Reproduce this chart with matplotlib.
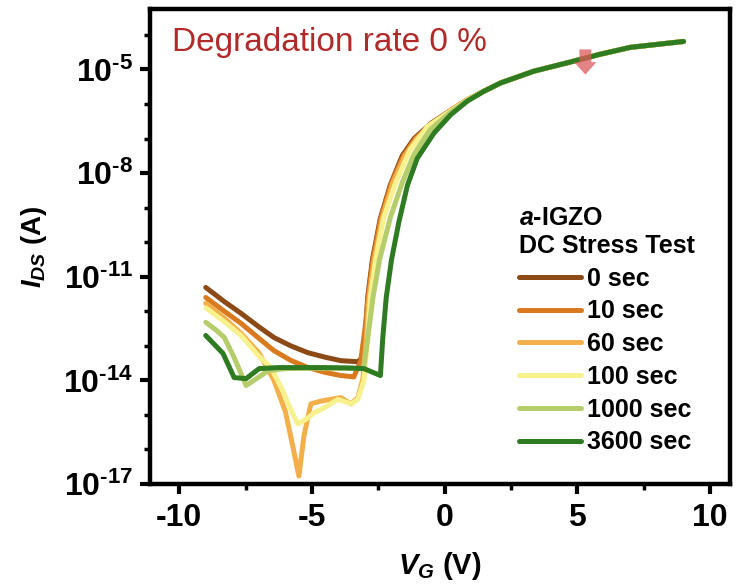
import numpy as np
import matplotlib
matplotlib.use("Agg")
import matplotlib.pyplot as plt
from matplotlib.ticker import FixedLocator, FuncFormatter

plt.rcParams['font.family'] = ['Liberation Sans', 'DejaVu Sans']
plt.rcParams['font.weight'] = 'bold'
plt.rcParams['axes.unicode_minus'] = False
plt.rcParams['mathtext.fontset'] = 'custom'
plt.rcParams['mathtext.rm'] = 'Liberation Sans:bold'
plt.rcParams['mathtext.bf'] = 'Liberation Sans:bold'
plt.rcParams['mathtext.it'] = 'Liberation Sans:italic:bold'
plt.rcParams['mathtext.bfit'] = 'Liberation Sans:italic:bold'
plt.rcParams['mathtext.sf'] = 'Liberation Sans:bold'

# ---- data: gate voltage (V) and log10 of drain current (A) ----
labels = ["0 sec", "10 sec", "60 sec", "100 sec", "1000 sec", "3600 sec"]
colors = ["#8B4A16", "#D97A1E", "#F3B04A", "#F7F28E", "#B6CD6C", "#2E7B21"]

vg_0s = [-9.0, -8.3, -7.67, -7.0, -6.43, -5.8, -5.15, -4.5, -3.91, -3.27, -3.04, -2.97,
         -2.9, -2.72, -2.42, -2.05, -1.6, -1.15, -0.5, 0.2, 0.85,
         1.48, 2.11, 3.36, 4.61, 5.86, 7.0, 9.0]
logi_0s = [-11.31, -11.72, -12.06, -12.45, -12.76, -13.0, -13.2, -13.33, -13.43, -13.46, -13.29, -12.5,
           -11.6, -10.5, -9.3, -8.35, -7.5, -7.0, -6.55, -6.2, -5.88,
           -5.63, -5.39, -5.05, -4.81, -4.56, -4.36, -4.19]

vg_10s = [-9.0, -8.3, -7.67, -7.0, -6.43, -5.8, -5.15, -4.5, -3.91, -3.42, -3.16, -3.0,
          -2.88, -2.7, -2.4, -2.0, -1.55, -1.1, -0.45, 0.2, 0.85,
          1.48, 2.11, 3.36, 4.61, 5.86, 7.0, 9.0]
logi_10s = [-11.6, -12.0, -12.35, -12.78, -13.14, -13.42, -13.63, -13.77, -13.86, -13.9, -13.43, -12.5,
            -11.6, -10.5, -9.3, -8.28, -7.5, -7.0, -6.55, -6.2, -5.88,
            -5.63, -5.39, -5.05, -4.81, -4.56, -4.36, -4.19]

vg_60s = [-9.0, -8.3, -7.67, -7.0, -6.43, -6.0, -5.75, -5.49, -5.3, -5.04, -4.66, -4.29, -3.91,
          -3.53, -3.27, -3.08, -2.95, -2.85, -2.65, -2.35, -1.95, -1.5, -1.05, -0.4, 0.2, 0.85,
          1.48, 2.11, 3.36, 4.61, 5.86, 7.0, 9.0]
logi_60s = [-11.77, -12.2, -12.64, -13.2, -14.0, -14.9, -15.8, -16.77, -15.6, -14.68, -14.6, -14.55, -14.5,
            -14.68, -14.5, -13.95, -12.8, -11.6, -10.5, -9.3, -8.28, -7.5, -7.0, -6.55, -6.2, -5.88,
            -5.63, -5.39, -5.05, -4.81, -4.56, -4.36, -4.19]

vg_100s = [-9.0, -8.3, -7.67, -7.0, -6.54, -6.1, -5.8, -5.53, -5.15, -4.92, -4.55, -4.02,
           -3.53, -3.27, -3.04, -2.9, -2.8, -2.6, -2.3, -1.85, -1.3, -0.65, 0.2, 0.85,
           1.48, 2.11, 3.36, 4.61, 5.86, 7.0, 9.0]
logi_100s = [-11.9, -12.3, -12.7, -13.3, -13.63, -14.3, -14.85, -15.26, -15.09, -14.94, -14.8, -14.55,
             -14.68, -14.55, -14.0, -12.8, -11.6, -10.5, -9.3, -8.28, -7.32, -6.65, -6.22, -5.89,
             -5.63, -5.39, -5.05, -4.81, -4.56, -4.36, -4.19]

vg_1000s = [-9.0, -8.6, -8.3, -7.93, -7.48, -7.03, -6.65, -6.0, -5.0, -4.0, -3.05, -2.9,
            -2.7, -2.45, -2.05, -1.6, -1.15, -0.55, 0.2, 0.85,
            1.48, 2.11, 3.36, 4.61, 5.86, 7.0, 9.0]
logi_1000s = [-12.32, -12.55, -12.76, -13.34, -14.15, -13.92, -13.72, -13.66, -13.65, -13.65, -13.66, -12.8,
              -11.6, -10.5, -9.3, -8.28, -7.45, -6.75, -6.25, -5.9,
              -5.63, -5.39, -5.05, -4.81, -4.56, -4.36, -4.19]

vg_3600s = [-9.0, -8.35, -7.93, -7.48, -6.99, -6.28, -5.5, -4.55, -3.6, -3.04, -2.42,
            -2.33, -2.2, -2.0, -1.72, -1.4, -1.03, -0.4, 0.23, 0.85,
            1.48, 2.11, 3.36, 4.61, 5.86, 7.0, 9.0]
logi_3600s = [-12.70, -13.22, -13.92, -13.95, -13.66, -13.63, -13.63, -13.63, -13.64, -13.66, -13.86,
              -12.76, -11.6, -10.5, -9.4, -8.35, -7.57, -6.84, -6.31, -5.92,
              -5.63, -5.39, -5.05, -4.81, -4.56, -4.36, -4.19]

vg_series = [vg_0s, vg_10s, vg_60s, vg_100s, vg_1000s, vg_3600s]
logi_series = [logi_0s, logi_10s, logi_60s, logi_100s, logi_1000s, logi_3600s]

y_major_exp = [-17, -14, -11, -8, -5]
y_minor_exp = list(range(-17, -3))
x_major = [-10, -5, 0, 5, 10]
x_minor = [-7.5, -2.5, 2.5, 7.5]

arrow_v = 5.3
arrow_from_log = -4.42
arrow_to_log = -5.15

# ---- figure ----
fig = plt.figure(figsize=(7.36, 5.86), dpi=100)
ax = fig.add_axes([150 / 736, 1 - 484 / 586, 580 / 736, 475 / 586])

for vg, li, c, lab in zip(vg_series, logi_series, colors, labels):
    ax.plot(vg, 10.0 ** np.array(li), color=c, lw=3.6, label=lab,
            solid_joinstyle='round', solid_capstyle='round')

ax.set_yscale('log')
ax.set_xlim(-11.1, 10.75)
ax.set_ylim(1e-17, 10 ** -3.25)

ax.yaxis.set_major_locator(FixedLocator([10.0 ** e for e in y_major_exp]))
ax.yaxis.set_minor_locator(FixedLocator([10.0 ** e for e in y_minor_exp]))
ax.yaxis.set_major_formatter(FuncFormatter(lambda v, p: r"$10^{\text{-%d}}$" % int(round(-np.log10(v)))))
ax.yaxis.set_minor_formatter(FuncFormatter(lambda v, p: ""))
ax.xaxis.set_major_locator(FixedLocator(x_major))
ax.xaxis.set_minor_locator(FixedLocator(x_minor))

for s in ax.spines.values():
    s.set_linewidth(3.2)
ax.tick_params(which='major', direction='out', length=7, width=3, labelsize=23)
ax.tick_params(which='minor', direction='out', length=4, width=2.5)
ax.tick_params(axis='x', which='major', pad=7)
ax.tick_params(axis='y', which='major', pad=5)

ax.set_xlabel(r"$V_G$ (V)", fontsize=21, fontweight='bold', labelpad=12)
ax.set_ylabel(r"$I_{DS}$ (A)", fontsize=20, fontweight='bold', labelpad=10)

ax.text(0.038, 0.93, "Degradation rate 0 %", transform=ax.transAxes, fontsize=24,
        fontweight='normal', color='#B02A2A', ha='left', va='center')

ax.annotate('', xy=(arrow_v, 10 ** arrow_to_log), xytext=(arrow_v, 10 ** arrow_from_log),
            arrowprops=dict(arrowstyle='simple,head_length=0.9,head_width=1.6,tail_width=0.85',
                            mutation_scale=10, color='#DC5A5A', alpha=0.75, lw=0,
                            shrinkA=0, shrinkB=0))

leg = ax.legend(title="$a$-IGZO\nDC Stress Test", loc='upper left', bbox_to_anchor=(0.636, 0.585),
                frameon=False, fontsize=18, handlelength=2.5, handletextpad=0.24,
                labelspacing=0.35, borderpad=0, borderaxespad=0, alignment='left',
                title_fontproperties={'weight': 'bold', 'size': 18})
for t in leg.get_texts():
    t.set_fontweight('bold')

fig.savefig("out.png", dpi=100)
